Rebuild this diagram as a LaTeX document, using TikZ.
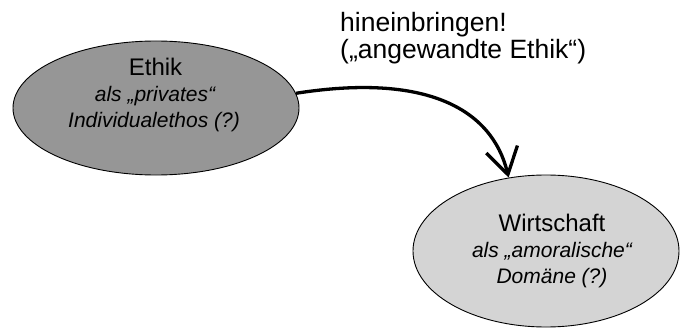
\documentclass[tikz,border=0pt]{standalone}
\usepackage{fontspec}
\setmainfont{Liberation Sans}
\usetikzlibrary{arrows.meta,shapes.geometric}
\definecolor{darkfill}{HTML}{969696}
\definecolor{lightfill}{HTML}{D4D4D4}
\tikzset{
  blob/.style={ellipse, draw=black, line width=0.9pt, inner sep=0pt},
  titletext/.style={anchor=base, inner sep=0pt, font=\fontsize{24}{26}\selectfont},
  subtext/.style={anchor=base, inner sep=0pt, font=\fontsize{21}{24}\selectfont\itshape},
  labeltext/.style={anchor=base west, inner sep=0pt, font=\fontsize{26.5}{28}\selectfont},
  bigarrow/.style={line width=3.3pt, -{Straight Barb[length=26pt, width=32pt]}}
}
\begin{document}
\begin{tikzpicture}[x=1pt, y=-1pt]
\useasboundingbox (0,0) rectangle (680,329);
\node[blob, fill=darkfill, minimum width=286pt, minimum height=134pt] (e1) at (156,108) {};
\node[blob, fill=lightfill, minimum width=266pt, minimum height=152pt] (e2) at (546,251) {};
\node[titletext] (t1) at (155.5,75.7) {Ethik};
\node[subtext] (s1a) at (155,101.7) {als „privates“};
\node[subtext] (s1b) at (154,127.7) {Individualethos (?)};
\node[titletext] (t2) at (552,231.7) {Wirtschaft};
\node[subtext] (s2a) at (552,257) {als „amoralische“};
\node[subtext] (s2b) at (552,283) {Domäne (?)};
\node[labeltext] (l1) at (340,31.7) {hineinbringen!};
\node[labeltext] (l2) at (340,59) {(„angewandte Ethik“)};
\draw[bigarrow] (e1.6) .. controls (425,73) and (492,108) .. (e2.117);
\end{tikzpicture}
\end{document}
